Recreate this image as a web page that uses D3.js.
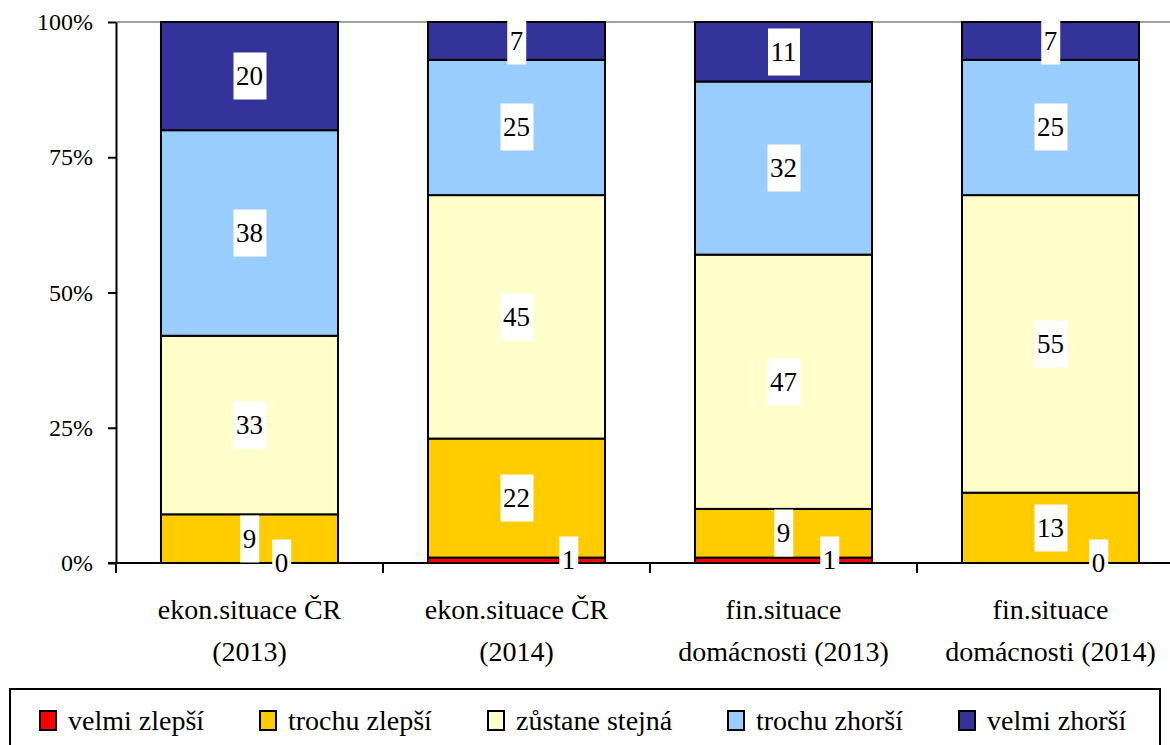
<!DOCTYPE html>
<html>
<head>
<meta charset="utf-8">
<script src="https://cdn.jsdelivr.net/npm/d3@7"></script>
<style>
  body { margin: 0; background: #fff; }
  #wrap { position: relative; width: 1170px; height: 745px; overflow: hidden; }
  #chart { position: absolute; left: 0; top: 0; }
  .lbl { position: absolute; color: #000; white-space: nowrap; }
</style>
</head>
<body>
<div id="wrap">
  <svg id="chart" width="1170" height="745"></svg>
</div>
<script>
"use strict";

var categoryLines = [
  ["ekon.situace ČR", "(2013)"],
  ["ekon.situace ČR", "(2014)"],
  ["fin.situace", "domácnosti (2013)"],
  ["fin.situace", "domácnosti (2014)"]
];
var seriesNames = ["velmi zlepší", "trochu zlepší", "zůstane stejná", "trochu zhorší", "velmi zhorší"];
var velmiZlepsi = [0, 1, 1, 0];
var trochuZlepsi = [9, 22, 9, 13];
var zustaneStejna = [33, 45, 47, 55];
var trochuZhorsi = [38, 25, 32, 25];
var velmiZhorsi = [20, 7, 11, 7];
var yTickValues = [0, 25, 50, 75, 100];

var seriesColors = ["#FF0000", "#FFCC00", "#FFFFCC", "#99CCFF", "#333399"];
// nudge for the tiny "velmi zlepší" labels, they sit right of the bar centre
var smallLabelDx = [32, 52, 46, 48];

var seriesValues = [velmiZlepsi, trochuZlepsi, zustaneStejna, trochuZhorsi, velmiZhorsi];
var rows = categoryLines.map(function (c, i) {
  return seriesValues.map(function (s) { return s[i]; });
});

var FONT = "'Liberation Serif', 'Times New Roman', monospace";
var svg = d3.select("#chart");
var wrap = d3.select("#wrap");
var PLOT = { left: 116, top: 22, bottom: 563, band: 267 };

var x = d3.scaleBand()
  .domain(d3.range(categoryLines.length))
  .range([PLOT.left, PLOT.left + PLOT.band * categoryLines.length])
  .padding(0);
var y = d3.scaleLinear().domain([0, 100]).range([PLOT.bottom, PLOT.top]);
var barWidth = x.bandwidth() * 0.663;

var stacked = d3.stack().keys(d3.range(seriesNames.length))(rows);

// all text goes into html divs, font forced inline with priority
function addLabel(left, top, size, text, transform) {
  return wrap.append("div")
    .attr("class", "lbl")
    .style("left", left + "px")
    .style("top", top + "px")
    .style("transform", transform)
    .style("font-family", FONT, "important")
    .style("font-size", size + "px", "important")
    .text(text);
}

// top grid line
svg.append("line")
  .attr("x1", PLOT.left).attr("x2", 1170)
  .attr("y1", y(100)).attr("y2", y(100))
  .attr("stroke", "#a0a0a0").attr("stroke-width", 2);

// bars
svg.append("g").selectAll("g")
  .data(stacked)
  .enter().append("g")
  .attr("fill", function (d, i) { return seriesColors[i]; })
  .selectAll("rect")
  .data(function (d) { return d; })
  .enter().append("rect")
  .attr("x", function (d, i) { return x(i) + (x.bandwidth() - barWidth) / 2; })
  .attr("y", function (d) { return y(d[1]); })
  .attr("width", barWidth)
  .attr("height", function (d) { return y(d[0]) - y(d[1]); })
  .attr("stroke", "#000")
  .attr("stroke-width", 2);

// y axis, labels drawn as html
var yAxis = svg.append("g")
  .attr("transform", "translate(" + PLOT.left + ",0)")
  .call(d3.axisLeft(y).tickValues(yTickValues).tickFormat("").tickSize(8).tickSizeOuter(0));
yAxis.select(".domain").attr("stroke", "#000").attr("stroke-width", 2);
yAxis.selectAll(".tick line").attr("stroke", "#000").attr("stroke-width", 2);
yTickValues.forEach(function (v) {
  addLabel(PLOT.left - 23, y(v), 24, v + "%", "translate(-100%, -50%)")
    .style("line-height", "26px");
});

// x axis: line along 0 with ticks on band boundaries
var xAxis = svg.append("g");
xAxis.append("line")
  .attr("x1", PLOT.left - 8).attr("x2", 1170)
  .attr("y1", y(0)).attr("y2", y(0))
  .attr("stroke", "#000").attr("stroke-width", 2);
xAxis.selectAll("line.tick")
  .data(d3.range(categoryLines.length))
  .enter().append("line")
  .attr("class", "tick")
  .attr("x1", function (d) { return x(d); })
  .attr("x2", function (d) { return x(d); })
  .attr("y1", y(0)).attr("y2", y(0) + 10)
  .attr("stroke", "#000").attr("stroke-width", 2);

categoryLines.forEach(function (lines, i) {
  addLabel(x(i) + x.bandwidth() / 2, 589, 28, "", "translate(-50%, 0)")
    .style("line-height", "42px")
    .style("text-align", "center")
    .html(lines.join("<br>"));
});

// data labels in white boxes
stacked.forEach(function (series, si) {
  series.forEach(function (d, ci) {
    var cx = x(ci) + x.bandwidth() / 2 + (si === 0 ? smallLabelDx[ci] : 0);
    var cy = (y(d[0]) + y(d[1])) / 2;
    addLabel(cx, cy, 27, d[1] - d[0], "translate(-50%, -50%)")
      .style("background", "#fff")
      .style("padding", "0 3px")
      .style("height", "47px")
      .style("line-height", "47px");
  });
});

// legend
var legend = svg.append("g");
legend.append("rect")
  .attr("x", 10).attr("y", 689)
  .attr("width", 1150).attr("height", 80)
  .attr("fill", "#fff")
  .attr("stroke", "#000").attr("stroke-width", 2);
var lx = 40;
seriesNames.forEach(function (name, i) {
  legend.append("rect")
    .attr("x", lx).attr("y", 711)
    .attr("width", 16).attr("height", 19)
    .attr("fill", seriesColors[i])
    .attr("stroke", "#000").attr("stroke-width", 2);
  var t = addLabel(lx + 28, 721, 28, name, "translate(0, -50%)")
    .style("line-height", "32px");
  lx += 28 + t.node().offsetWidth + 56;
});
</script>
</body>
</html>
